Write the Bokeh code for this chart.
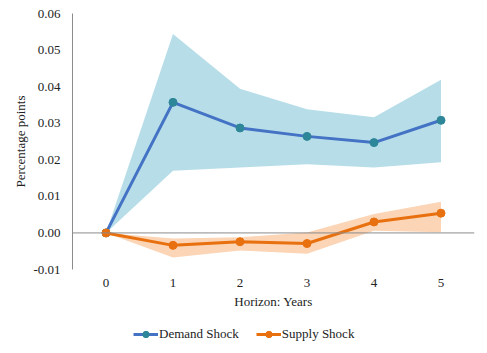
from bokeh.plotting import figure
from bokeh.layouts import column
from bokeh.models import (Range1d, FixedTicker, NumeralTickFormatter, Span,
                          Legend, LegendItem, ColumnDataSource)
from bokeh.embed import file_html
from bokeh.resources import INLINE

horizon = [0, 1, 2, 3, 4, 5]
demand = [0.0, 0.0357, 0.0287, 0.0264, 0.0247, 0.0308]
demand_upper = [0.0, 0.0544, 0.0394, 0.0338, 0.0316, 0.0419]
demand_lower = [0.0, 0.0170, 0.0179, 0.0188, 0.0179, 0.0193]
supply = [0.0, -0.0034, -0.0024, -0.0029, 0.0030, 0.0054]
supply_upper = [0.0, -0.0015, -0.0012, 0.0001, 0.0052, 0.0085]
supply_lower = [0.0, -0.0067, -0.0048, -0.0057, 0.0006, 0.0002]
y_ticks = [-0.01, 0.0, 0.01, 0.02, 0.03, 0.04, 0.05, 0.06]
series_names = ["Demand Shock", "Supply Shock"]

FONT = "'Liberation Serif', 'Times New Roman', serif"
BLUE_LINE, BLUE_MARK, BLUE_BAND = "#4472C4", "#2E8699", "#B7DEE8"
ORANGE_LINE, ORANGE_BAND = "#E8700F", "#FBD5B5"

src = ColumnDataSource(dict(x=horizon, d=demand, du=demand_upper, dl=demand_lower,
                            s=supply, su=supply_upper, sl=supply_lower))

p = figure(width=487, height=318, output_backend="svg", toolbar_location=None,
           x_range=Range1d(-0.5, 5.5), y_range=Range1d(-0.01, 0.06),
           min_border_left=72, min_border_right=13, min_border_top=13,
           min_border_bottom=49)
p.outline_line_color = None
p.grid.visible = False

p.varea(x="x", y1="dl", y2="du", source=src, fill_color=BLUE_BAND, fill_alpha=1)
p.varea(x="x", y1="sl", y2="su", source=src, fill_color=ORANGE_BAND, fill_alpha=1)

zero = Span(location=0, dimension="width", line_color="#8C8C8C", line_width=1)
p.add_layout(zero)

p.line(x="x", y="d", source=src, line_color=BLUE_LINE, line_width=3)
p.scatter(x="x", y="d", source=src, size=8, fill_color=BLUE_MARK, line_color=BLUE_MARK)
p.line(x="x", y="s", source=src, line_color=ORANGE_LINE, line_width=3)
p.scatter(x="x", y="s", source=src, size=8, fill_color=ORANGE_LINE, line_color=ORANGE_LINE)

xa = p.xaxis[0]
xa.ticker = FixedTicker(ticks=horizon)
xa.axis_line_color = None
xa.major_tick_line_color = None
xa.minor_tick_line_color = None
xa.major_tick_out = 0
xa.major_tick_in = 0
xa.major_label_standoff = 9
xa.major_label_text_font = FONT
xa.major_label_text_font_size = "13px"
xa.major_label_text_color = "#222222"
xa.axis_label = "Horizon: Years"
xa.axis_label_text_font = FONT
xa.axis_label_text_font_size = "13px"
xa.axis_label_text_font_style = "normal"
xa.axis_label_text_color = "#222222"
xa.axis_label_standoff = 4

ya = p.yaxis[0]
ya.ticker = FixedTicker(ticks=y_ticks)
ya.formatter = NumeralTickFormatter(format="0.00")
ya.axis_line_color = "#8C8C8C"
ya.major_tick_line_color = None
ya.minor_tick_line_color = None
ya.major_tick_out = 0
ya.major_tick_in = 0
ya.major_label_standoff = 12
ya.major_label_text_font = FONT
ya.major_label_text_font_size = "13px"
ya.major_label_text_color = "#222222"
ya.axis_label = "Percentage points"
ya.axis_label_text_font = FONT
ya.axis_label_text_font_size = "13px"
ya.axis_label_text_font_style = "normal"
ya.axis_label_text_color = "#222222"
ya.axis_label_standoff = 2

# legend strip below the chart (its renderers sit outside its visible range)
lg = figure(width=487, height=35, output_backend="svg", toolbar_location=None,
            x_range=Range1d(100, 101), y_range=Range1d(100, 101),
            min_border=0, min_border_left=0, min_border_right=0,
            min_border_top=0, min_border_bottom=0)
lg.outline_line_color = None
lg.grid.visible = False
lg.axis.visible = False
l1 = lg.line(x="x", y="d", source=src, line_color=BLUE_LINE, line_width=3)
m1 = lg.scatter(x="x", y="d", source=src, size=8, fill_color=BLUE_MARK, line_color=BLUE_MARK)
l2 = lg.line(x="x", y="s", source=src, line_color=ORANGE_LINE, line_width=3)
m2 = lg.scatter(x="x", y="s", source=src, size=8, fill_color=ORANGE_LINE, line_color=ORANGE_LINE)

legend = Legend(items=[LegendItem(label=series_names[0], renderers=[l1, m1]),
                       LegendItem(label=series_names[1], renderers=[l2, m2])],
                orientation="horizontal", location=(61, 11),
                label_text_font=FONT, label_text_font_size="13px",
                label_text_color="#222222",
                glyph_width=25, glyph_height=16, label_standoff=1, spacing=17,
                padding=2, margin=0, border_line_color=None,
                background_fill_alpha=0)
lg.add_layout(legend, "center")

open("out.html", "w").write(file_html(column(p, lg, spacing=0), INLINE))
